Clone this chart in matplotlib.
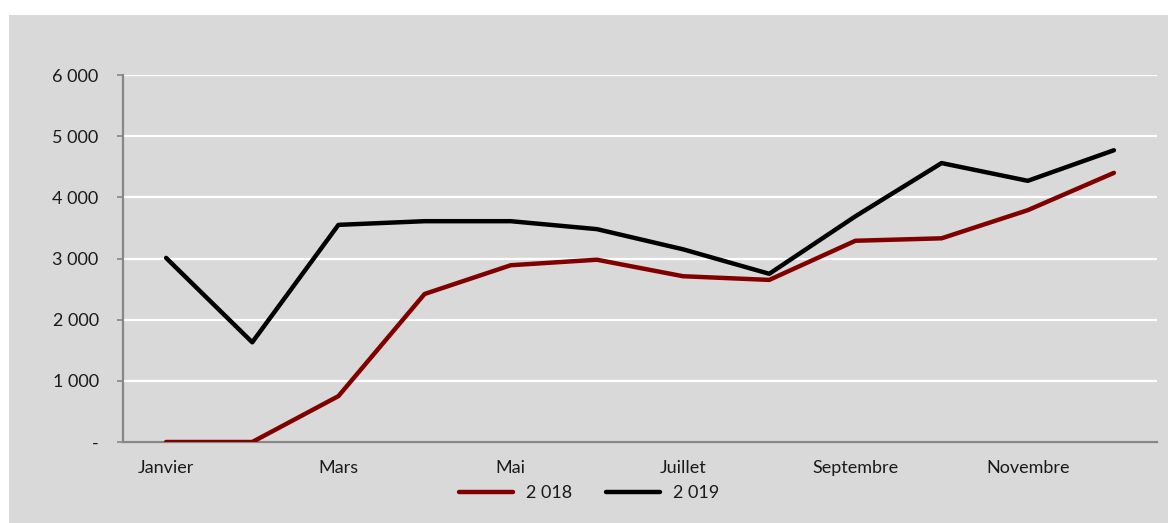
import matplotlib
matplotlib.use("Agg")
import matplotlib.pyplot as plt
from matplotlib.patches import Rectangle
from matplotlib.ticker import FuncFormatter

months = ["Janvier", "Février", "Mars", "Avril", "Mai", "Juin", "Juillet",
          "Août", "Septembre", "Octobre", "Novembre", "Décembre"]
sales_2018 = [0, 0, 750, 2420, 2890, 2980, 2710, 2650, 3290, 3330, 3790, 4400]
sales_2019 = [3010, 1630, 3550, 3610, 3610, 3480, 3150, 2750, 3690, 4560, 4270, 4770]
series_labels = ["2 018", "2 019"]
yticks = [0, 1000, 2000, 3000, 4000, 5000, 6000]

plt.rcParams['font.family'] = ['Lato', 'DejaVu Sans']

fig = plt.figure(figsize=(11.68, 5.23), dpi=100)
fig.patch.set_facecolor("white")
fig.patches.append(Rectangle((9/1168, 0), 1 - 9/1168, 1 - 15/523,
                             transform=fig.transFigure, facecolor="#d9d9d9",
                             edgecolor="none", zorder=-10))

ax = fig.add_axes([123/1168, 1 - 442/523, (1157 - 123)/1168, (442 - 75)/523])
ax.set_zorder(1)
ax.set_facecolor("none")

x = list(range(len(months)))
ax.plot(x, sales_2018, color="#800000", lw=3.2, solid_capstyle="round",
        label=series_labels[0], zorder=3)
ax.plot(x, sales_2019, color="black", lw=3.2, solid_capstyle="round",
        label=series_labels[1], zorder=3)

ax.set_xlim(-0.5, len(months) - 0.5)
ax.set_ylim(0, 6000)
ax.set_yticks(yticks)

def fmt(v, pos):
    if v == 0:
        return "-"
    return f"{int(v):,}".replace(",", " ")

ax.yaxis.set_major_formatter(FuncFormatter(fmt))
ax.set_xticks(x[::2])
ax.set_xticklabels(months[::2])

ax.grid(axis="y", color="white", lw=1.6, zorder=1)
ax.set_axisbelow(True)
for s in ["top", "right"]:
    ax.spines[s].set_visible(False)
for s in ["left", "bottom"]:
    ax.spines[s].set_color("#878787")
    ax.spines[s].set_linewidth(1.6)

ax.tick_params(axis="y", length=4.5, width=1.2, color="#878787", pad=13,
               labelsize=13, labelcolor="#1a1a1a")
ax.tick_params(axis="x", length=0, pad=13, labelsize=13, labelcolor="#1a1a1a")

leg = fig.legend(loc="center", bbox_to_anchor=(589/1168, 1 - 493/523), ncol=2,
                 frameon=False, fontsize=13, handlelength=3.0,
                 columnspacing=1.9, handletextpad=0.7)
for t in leg.get_texts():
    t.set_color("#1a1a1a")

fig.savefig("out.png", dpi=100, facecolor="white")
